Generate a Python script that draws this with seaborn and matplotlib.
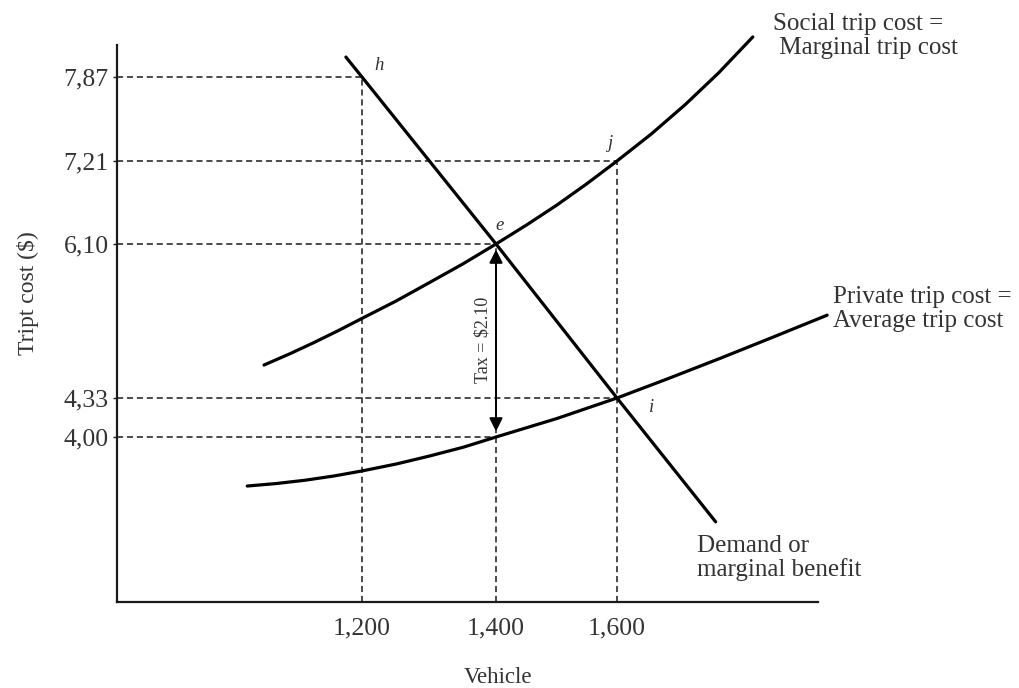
import numpy as np
import pandas as pd
import seaborn as sns
import matplotlib.pyplot as plt

sns.set_theme(style='white')
plt.rcParams['font.family'] = ['Liberation Serif', 'DejaVu Serif']

# curves (vehicles, $ per trip)
demand_q = [1176, 1200, 1400, 1600, 1762]
demand_p = [8.026, 7.87, 6.10, 4.33, 3.28]

social_q = [1054, 1093, 1127, 1164, 1200, 1251, 1301, 1351, 1400,
            1451, 1501, 1550, 1600, 1656, 1712, 1767, 1823]
social_p = [4.709, 4.840, 4.962, 5.102, 5.245, 5.445, 5.658, 5.873, 6.10,
            6.357, 6.623, 6.905, 7.21, 7.421, 7.653, 7.903, 8.183]

private_q = [1029, 1072, 1115, 1158, 1200, 1252, 1301, 1351, 1400,
             1501, 1600, 1684, 1769, 1856, 1945]
private_p = [3.584, 3.605, 3.633, 3.669, 3.712, 3.772, 3.839, 3.913, 4.00,
             4.157, 4.33, 4.553, 4.785, 5.029, 5.282]

# marked levels
y_ticks = [4.00, 4.33, 6.10, 7.21, 7.87]
y_labels = ['4,00', '4,33', '6,10', '7,21', '7,87']
x_ticks = [1200, 1400, 1600]
x_labels = ['1,200', '1,400', '1,600']

# guide lines: (cost level, vehicles where it stops)
h_guides = [(7.87, 1200), (7.21, 1600), (6.10, 1400), (4.33, 1600), (4.00, 1400)]
v_guides = [(1200, 7.87), (1400, 6.10), (1600, 7.21)]

# the drawing is not to scale, so use a piecewise scale through the marked values
y_anchor = [0.0, 2.60, 4.00, 4.33, 6.10, 7.21, 7.87, 8.12, 10.0]
y_pix = [-306.4, 0, 165, 204, 358, 441, 525, 557, 797.6]
x_anchor = [0, 835, 1200, 1400, 1600, 1930, 3000]
x_pix = [-560, 0, 245, 379, 500, 701, 1352]


def yf(v):
    return np.interp(v, y_anchor, y_pix)


def yi(v):
    return np.interp(v, y_pix, y_anchor)


def xf(v):
    return np.interp(v, x_anchor, x_pix)


def xi(v):
    return np.interp(v, x_pix, x_anchor)


W, H = 1019, 688
fig = plt.figure(figsize=(W / 100, H / 100), dpi=100)
ax = fig.add_axes([117 / W, (H - 602) / H, 701 / W, 557 / H])
ax.set_xscale('function', functions=(xf, xi))
ax.set_yscale('function', functions=(yf, yi))
ax.set_xlim(835, 1930)
ax.set_ylim(2.60, 8.12)

ink = '#1a1a1a'
grey = '#333333'
dash = (0, (4, 2.5))
for y, x in h_guides:
    ax.hlines(y, 835, x, colors=ink, linestyles=dash, lw=1.1)
for x, y in v_guides:
    ax.vlines(x, 2.60, y, colors=ink, linestyles=dash, lw=1.1)

curves = pd.concat([
    pd.DataFrame({'q': demand_q, 'p': demand_p, 'curve': 'demand'}),
    pd.DataFrame({'q': social_q, 'p': social_p, 'curve': 'social'}),
    pd.DataFrame({'q': private_q, 'p': private_p, 'curve': 'private'}),
])
sns.lineplot(data=curves, x='q', y='p', units='curve', estimator=None,
             color='black', lw=2.3, ax=ax, clip_on=False)

# tax arrow between e and the private cost curve
ax.annotate('', xy=(1400, 4.00), xytext=(1400, 6.10),
            arrowprops=dict(arrowstyle='<|-|>', color='black', lw=1.4,
                            mutation_scale=20, shrinkA=4, shrinkB=4))
ax.text(1381, 5.0, 'Tax = $2.10', rotation=90, ha='center', va='center',
        fontsize=13, color=grey)

# point letters
for lab, x, y, dx, dy in [('h', 1200, 7.87, 17, 12), ('e', 1400, 6.10, 4, 19),
                          ('j', 1600, 7.21, -6, 17), ('i', 1600, 4.33, 35, -10)]:
    ax.annotate(lab, xy=(x, y), xytext=(dx, dy), textcoords='offset pixels',
                ha='center', va='center', fontsize=13.5, style='italic', color=grey)

ax.set_xticks(x_ticks)
ax.set_xticklabels(x_labels)
ax.set_yticks(y_ticks)
ax.set_yticklabels(y_labels)
ax.tick_params(axis='x', length=0, pad=11, labelsize=18.5, labelcolor=grey)
ax.tick_params(axis='y', length=3, width=1, pad=3, labelsize=18.5, labelcolor=grey,
               left=True, color=ink)
ax.minorticks_off()

sns.despine(ax=ax)
for s in ['left', 'bottom']:
    ax.spines[s].set_color(ink)
    ax.spines[s].set_linewidth(1.6)

ax.set_ylabel('Tript cost ($)', fontsize=17, color=grey, va='center')
ax.yaxis.set_label_coords(-0.127, 0.555)
ax.set_xlabel('Vehicle', fontsize=16.5, color=grey, va='center')
ax.xaxis.set_label_coords(0.543, -0.136)

# curve names
fig.text(773 / W, 1 - 36 / H, 'Social trip cost =\n Marginal trip cost', ha='left', va='center',
         fontsize=18, color=grey, linespacing=1.1)
fig.text(833 / W, 1 - 309 / H, 'Private trip cost =\nAverage trip cost', ha='left', va='center',
         fontsize=18, color=grey, linespacing=1.1)
fig.text(697 / W, 1 - 558 / H, 'Demand or\nmarginal benefit', ha='left', va='center',
         fontsize=18, color=grey, linespacing=1.1)

fig.savefig('out.png', dpi=100, facecolor='white')
